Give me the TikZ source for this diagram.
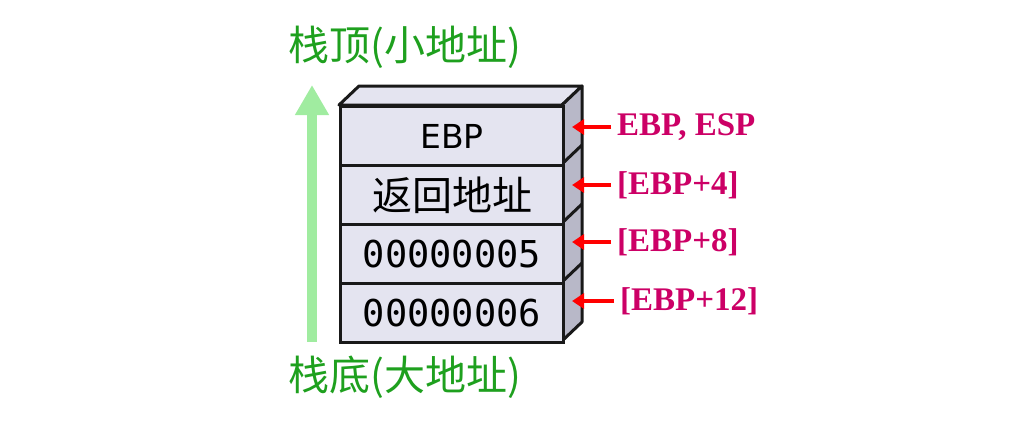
\documentclass[tikz,border=0pt]{standalone}
\usepackage{fontspec}
\usetikzlibrary{arrows.meta}
\newfontfamily\cjk{Noto Sans CJK SC}
\newfontfamily\dsans{DejaVu Sans}
\newfontfamily\dmono{DejaVu Sans Mono}
\newfontfamily\lab{Liberation Serif}
\definecolor{frontc}{RGB}{228,228,240}
\definecolor{sidec}{RGB}{184,184,200}
\definecolor{edgec}{RGB}{25,25,25}
\definecolor{greentxt}{RGB}{30,160,30}
\definecolor{greenarr}{RGB}{160,236,160}
\definecolor{labc}{RGB}{204,0,102}
\tikzset{
  row/.style={draw=edgec, fill=frontc, line width=3pt, minimum width=223pt, minimum height=59pt, inner sep=0pt, anchor=north west},
  face/.style={draw=edgec, fill=#1, line width=3pt, line join=round},
  lbl/.style={font=\lab\bfseries\fontsize{33}{38}\selectfont, text=labc, anchor=west, inner sep=0pt},
  redarrow/.style={draw=red, line width=4pt, -{Triangle[length=12pt,width=15pt]}, shorten <=6pt},
  gtxt/.style={font=\cjk\fontsize{41}{46}\selectfont, text=greentxt, inner sep=0pt}
}
\begin{document}
\begin{tikzpicture}[x=1pt,y=-1pt]
\useasboundingbox (0,0) rectangle (1024,442);
% top and side faces
\draw[face=frontc] (339,105) -- (359,86) -- (582,86) -- (562,105) -- cycle;
\draw[face=sidec] (562,105) -- (582,86) -- (582,322) -- (562,341) -- cycle;
\foreach \y in {164,223,282} { \draw[edgec, line width=3pt] (562,\y) -- (582,\y-19); }
% rows
\node[row, font=\dsans\fontsize{33}{38}\selectfont] (r1) at (339,105) {EBP};
\node[row, font=\cjk\fontsize{40}{44}\selectfont] (r2) at (339,164) {返回地址};
\node[row, font=\dmono\fontsize{37}{42}\selectfont] (r3) at (339,223) {00000005};
\node[row, font=\dmono\fontsize{37}{42}\selectfont] (r4) at (339,282) {00000006};
% green arrow and labels
\coordinate (gb) at (312,342);
\coordinate (gt) at (312,85);
\draw[greenarr, line width=10pt, -{Triangle[length=30pt,width=32pt]}] (gb) -- (gt);
\node[gtxt] (top) at (405,47) {栈顶(小地址)};
\node[gtxt] (bot) at (405,377) {栈底(大地址)};
% pointer labels
\node[lbl] (l1) at (617,127) {EBP, ESP};
\node[lbl] (l2) at (617,185) {[EBP+4]};
\node[lbl] (l3) at (617,242) {[EBP+8]};
\node[lbl] (l4) at (620,301) {[EBP+12]};
\coordinate (t1) at (572,127);
\coordinate (t2) at (572,185);
\coordinate (t3) at (572,242);
\coordinate (t4) at (572,301);
\draw[redarrow] (l1.west) -- (t1);
\draw[redarrow] (l2.west) -- (t2);
\draw[redarrow] (l3.west) -- (t3);
\draw[redarrow] (l4.west |- t4) -- (t4);
\end{tikzpicture}
\end{document}
